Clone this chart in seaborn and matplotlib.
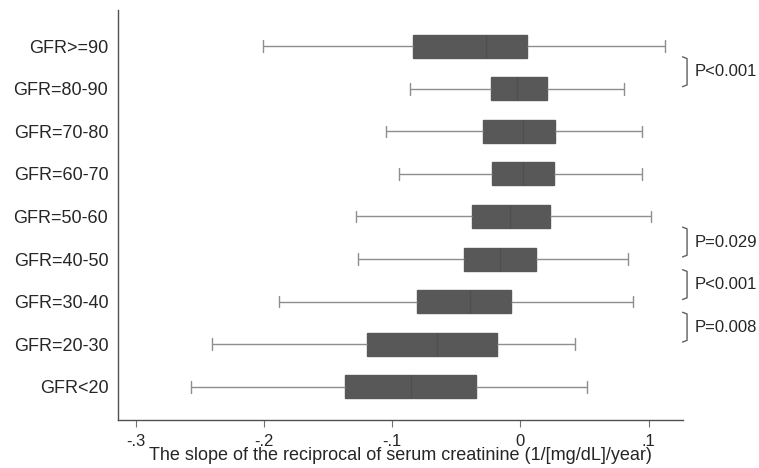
import numpy as np
import pandas as pd
import matplotlib
matplotlib.use("Agg")
import matplotlib.pyplot as plt
import matplotlib.transforms as mtransforms
import seaborn as sns

# Five-number summaries of the slope of 1/serum creatinine, by GFR stratum
groups = ["GFR>=90", "GFR=80-90", "GFR=70-80", "GFR=60-70", "GFR=50-60",
          "GFR=40-50", "GFR=30-40", "GFR=20-30", "GFR<20"]
whisker_low = [-0.201, -0.086, -0.105, -0.095, -0.128, -0.127, -0.188, -0.241, -0.257]
q1 = [-0.084, -0.023, -0.029, -0.022, -0.0375, -0.044, -0.081, -0.120, -0.137]
median = [-0.027, -0.003, 0.002, 0.002, -0.008, -0.016, -0.039, -0.065, -0.085]
q3 = [0.005, 0.021, 0.027, 0.026, 0.023, 0.0125, -0.007, -0.018, -0.035]
whisker_high = [0.113, 0.081, 0.095, 0.095, 0.102, 0.084, 0.088, 0.043, 0.052]

xticks = [-0.3, -0.2, -0.1, 0.0, 0.1]
xtick_labels = ["-.3", "-.2", "-.1", "0", ".1"]

# Pairwise comparisons: (upper row, lower row, label)
comparisons = [(0, 1, "P<0.001"), (4, 5, "P=0.029"), (5, 6, "P<0.001"), (6, 7, "P=0.008")]

# Long table: each group's five summary values; with whis=(0, 100) the box
# spans the quartiles and the whiskers reach the extremes.
rows = []
for g, a, b, c, d, e in zip(groups, whisker_low, q1, median, q3, whisker_high):
    for v in (a, b, c, d, e):
        rows.append({"group": g, "slope": v})
df = pd.DataFrame(rows)

sns.set_theme(style="white")
plt.rcParams["font.family"] = ["Liberation Sans", "DejaVu Sans"]

fig = plt.figure(figsize=(7.59, 4.68), dpi=100)
ax = fig.add_axes([0.1555, 0.1026, 0.7445, 0.876])

box_color = "#585858"
line_color = "#8e8e8e"
sns.boxplot(
    data=df, x="slope", y="group", order=groups, orient="h",
    whis=(0, 100), width=0.54, color=box_color, saturation=1,
    linecolor=line_color, linewidth=1.0, fliersize=0, ax=ax,
    boxprops=dict(edgecolor=box_color),
    medianprops=dict(color="#4e4e4e", linewidth=1.0),
)

ax.set_xlim(-0.314, 0.127)
ax.set_ylim(8.78, -0.85)
ax.set_xticks(xticks)
ax.set_xticklabels(xtick_labels)
ax.set_xlabel("The slope of the reciprocal of serum creatinine (1/[mg/dL]/year)",
              fontsize=13, color="#262626", labelpad=-1)
ax.set_ylabel("")

for side in ("top", "right"):
    ax.spines[side].set_visible(False)
for side in ("left", "bottom"):
    ax.spines[side].set_color("#505050")
    ax.spines[side].set_linewidth(1.0)

ax.tick_params(axis="x", direction="out", length=5, width=0.8, color="#707070",
               labelsize=12, labelcolor="#262626", pad=5, bottom=True)
ax.tick_params(axis="y", length=0, labelsize=13, labelcolor="#262626", pad=7)

# Significance brackets to the right of the plot area
trans = mtransforms.blended_transform_factory(ax.transAxes, ax.transData)
bx = 1.007
hook = 0.008
for top, bottom, label in comparisons:
    y0 = top + 0.25
    y1 = bottom - 0.05
    ax.plot([bx - hook, bx, bx, bx - hook], [y0, y0 + 0.04, y1 - 0.04, y1],
            transform=trans, clip_on=False, color="#606060", linewidth=1.0)
    ax.text(bx + 0.014, (y0 + y1) / 2, label, transform=trans, ha="left",
            va="center", fontsize=12, color="#262626")

fig.savefig("out.png", dpi=100, facecolor="white")
